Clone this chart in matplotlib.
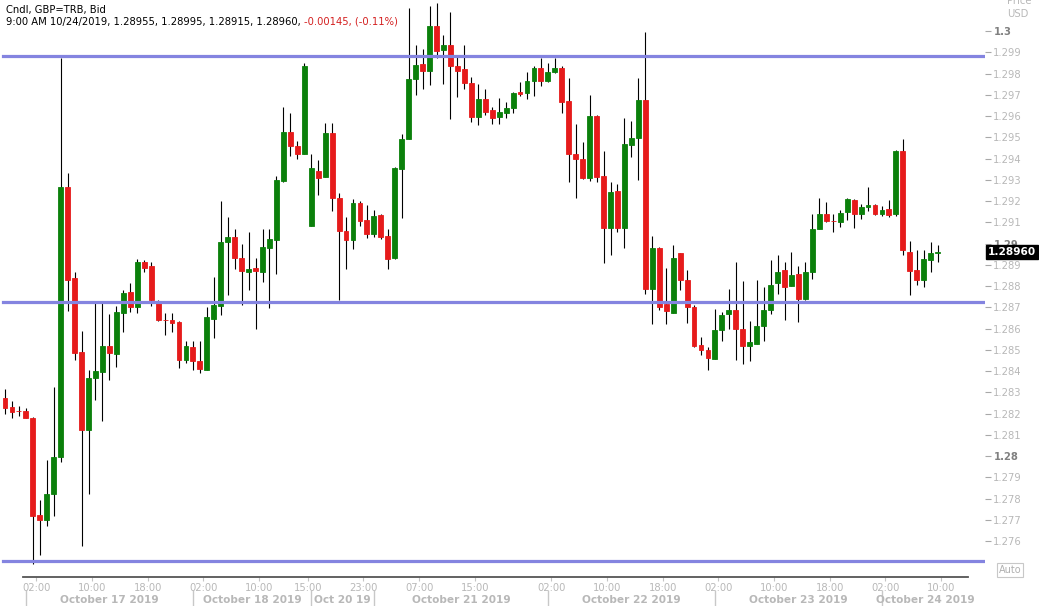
import numpy as np
import matplotlib.pyplot as plt
import matplotlib.transforms as mtransforms

# hourly candles, GBP=TRB bid, Oct 16 21:00 .. Oct 24 09:00
opens = [1.28272, 1.28229, 1.28212, 1.28210, 1.28181, 1.27723, 1.27699, 1.27819, 1.27997, 1.29266,
         1.28839, 1.28488, 1.28121, 1.28366, 1.28395, 1.28519, 1.28480, 1.28673, 1.28770, 1.28702,
         1.28912, 1.28895, 1.28728, 1.28640, 1.28642, 1.28629, 1.28451, 1.28511, 1.28449, 1.28406,
         1.28647, 1.28705, 1.29009, 1.29032, 1.28933, 1.28864, 1.28885, 1.28864, 1.28980, 1.29018,
         1.29296, 1.29525, 1.29459, 1.29423, 1.29083, 1.29342, 1.29313, 1.29518, 1.29214, 1.29061,
         1.29015, 1.29192, 1.29112, 1.29047, 1.29132, 1.29035, 1.28933, 1.29351, 1.29491, 1.29775,
         1.29843, 1.29812, 1.30022, 1.29911, 1.29932, 1.29834, 1.29821, 1.29757, 1.29595, 1.29681,
         1.29628, 1.29594, 1.29616, 1.29636, 1.29713, 1.29710, 1.29766, 1.29826, 1.29766, 1.29807,
         1.29826, 1.29670, 1.29419, 1.29399, 1.29308, 1.29602, 1.29317, 1.29074, 1.29249, 1.29074,
         1.29462, 1.29496, 1.29676, 1.28784, 1.28979, 1.28714, 1.28673, 1.28953, 1.28830, 1.28702,
         1.28523, 1.28500, 1.28458, 1.28591, 1.28668, 1.28685, 1.28599, 1.28518, 1.28526, 1.28611,
         1.28685, 1.28813, 1.28876, 1.28799, 1.28856, 1.28740, 1.28864, 1.29066, 1.29137, 1.29107,
         1.29103, 1.29146, 1.29206, 1.29141, 1.29172, 1.29180, 1.29141, 1.29163, 1.29141, 1.29436,
         1.28962, 1.28873, 1.28830, 1.28924, 1.28955]
highs = [1.28313, 1.28261, 1.28236, 1.28224, 1.28183, 1.27792, 1.27980, 1.28326, 1.29875, 1.29330,
         1.28868, 1.28588, 1.28403, 1.28728, 1.28728, 1.28666, 1.28705, 1.28782, 1.28816, 1.28929,
         1.28922, 1.28912, 1.28736, 1.28673, 1.28673, 1.28634, 1.28540, 1.28540, 1.28540, 1.28702,
         1.28844, 1.29201, 1.29126, 1.29066, 1.28997, 1.29056, 1.28933, 1.29069, 1.29069, 1.29317,
         1.29641, 1.29612, 1.29482, 1.29851, 1.29419, 1.29394, 1.29568, 1.29568, 1.29240, 1.29126,
         1.29211, 1.29201, 1.29180, 1.29158, 1.29137, 1.29069, 1.29360, 1.29513, 1.30108, 1.29932,
         1.29915, 1.30120, 1.30132, 1.29980, 1.30089, 1.29880, 1.29932, 1.29783, 1.29749, 1.29727,
         1.29641, 1.29687, 1.29667, 1.29715, 1.29761, 1.29807, 1.29833, 1.29872, 1.29851, 1.29872,
         1.29833, 1.29778, 1.29564, 1.29479, 1.29701, 1.29607, 1.29436, 1.29291, 1.29279, 1.29590,
         1.29578, 1.29778, 1.29995, 1.29035, 1.28984, 1.28885, 1.28992, 1.28955, 1.28873, 1.28711,
         1.28562, 1.28514, 1.28690, 1.28676, 1.28787, 1.28915, 1.28822, 1.28634, 1.28830, 1.28796,
         1.28921, 1.28944, 1.28915, 1.28958, 1.28893, 1.28912, 1.29137, 1.29214, 1.29194, 1.29137,
         1.29158, 1.29214, 1.29209, 1.29185, 1.29266, 1.29185, 1.29175, 1.29206, 1.29440, 1.29491,
         1.29013, 1.28970, 1.28970, 1.29009, 1.28995]
lows = [1.28198, 1.28181, 1.28190, 1.28178, 1.27493, 1.27535, 1.27669, 1.27720, 1.27973, 1.28681,
        1.28454, 1.27575, 1.27822, 1.28263, 1.28164, 1.28357, 1.28420, 1.28582, 1.28680, 1.28673,
        1.28868, 1.28705, 1.28634, 1.28570, 1.28582, 1.28415, 1.28437, 1.28403, 1.28391, 1.28403,
        1.28553, 1.28664, 1.28757, 1.28878, 1.28711, 1.28779, 1.28596, 1.28818, 1.28697, 1.28856,
        1.29288, 1.29414, 1.29397, 1.29420, 1.29083, 1.29228, 1.29313, 1.29151, 1.28736, 1.28878,
        1.28975, 1.29083, 1.29027, 1.29032, 1.29023, 1.28878, 1.28929, 1.29120, 1.29491, 1.29698,
        1.29727, 1.29747, 1.29872, 1.29752, 1.29587, 1.29689, 1.29727, 1.29570, 1.29559, 1.29604,
        1.29561, 1.29564, 1.29590, 1.29616, 1.29693, 1.29681, 1.29696, 1.29740, 1.29761, 1.29804,
        1.29612, 1.29291, 1.29214, 1.29303, 1.29296, 1.29288, 1.28907, 1.28944, 1.29052, 1.28980,
        1.29407, 1.29300, 1.28762, 1.28620, 1.28688, 1.28620, 1.28673, 1.28779, 1.28625, 1.28511,
        1.28476, 1.28403, 1.28458, 1.28540, 1.28599, 1.28454, 1.28432, 1.28449, 1.28526, 1.28540,
        1.28668, 1.28762, 1.28642, 1.28799, 1.28629, 1.28736, 1.28833, 1.29066, 1.29100, 1.29052,
        1.29078, 1.29112, 1.29073, 1.29115, 1.29155, 1.29134, 1.29129, 1.29124, 1.29129, 1.28944,
        1.28758, 1.28804, 1.28796, 1.28864, 1.28915]
closes = [1.28224, 1.28207, 1.28210, 1.28181, 1.27720, 1.27699, 1.27819, 1.27993, 1.29266, 1.28830,
          1.28485, 1.28121, 1.28369, 1.28400, 1.28519, 1.28485, 1.28676, 1.28765, 1.28702, 1.28912,
          1.28885, 1.28736, 1.28639, 1.28639, 1.28625, 1.28451, 1.28519, 1.28446, 1.28408, 1.28656,
          1.28711, 1.29009, 1.29032, 1.28933, 1.28869, 1.28881, 1.28869, 1.28984, 1.29023, 1.29300,
          1.29525, 1.29457, 1.29423, 1.29833, 1.29356, 1.29308, 1.29518, 1.29214, 1.29057, 1.29015,
          1.29192, 1.29108, 1.29047, 1.29129, 1.29032, 1.28929, 1.29356, 1.29493, 1.29775, 1.29838,
          1.29812, 1.30022, 1.29906, 1.29932, 1.29833, 1.29812, 1.29757, 1.29595, 1.29681, 1.29621,
          1.29590, 1.29619, 1.29638, 1.29706, 1.29705, 1.29766, 1.29826, 1.29766, 1.29807, 1.29826,
          1.29667, 1.29419, 1.29397, 1.29308, 1.29599, 1.29313, 1.29074, 1.29243, 1.29074, 1.29467,
          1.29496, 1.29676, 1.28784, 1.28980, 1.28702, 1.28681, 1.28933, 1.28827, 1.28702, 1.28519,
          1.28497, 1.28459, 1.28594, 1.28663, 1.28685, 1.28596, 1.28518, 1.28535, 1.28613, 1.28688,
          1.28804, 1.28868, 1.28796, 1.28852, 1.28740, 1.28868, 1.29066, 1.29137, 1.29107, 1.29105,
          1.29143, 1.29209, 1.29141, 1.29172, 1.29180, 1.29141, 1.29158, 1.29134, 1.29436, 1.28970,
          1.28869, 1.28830, 1.28929, 1.28955, 1.28960]

# drawn horizontal levels
levels = [1.29884, 1.28726, 1.27507]

# x axis: hour labels with the candle index of that hour, day names with the candle index where the day starts
hour_labels = ['02:00', '10:00', '18:00', '02:00', '10:00', '15:00', '23:00', '07:00', '15:00',
               '02:00', '10:00', '18:00', '02:00', '10:00', '18:00', '02:00', '10:00']
hour_idx = [5, 13, 21, 29, 37, 44, 52, 60, 68, 79, 87, 95, 103, 111, 119, 127, 135]
day_labels = ['October 17 2019', 'October 18 2019', 'Oct 20 19', 'October 21 2019',
              'October 22 2019', 'October 23 2019', 'October 24 2019']
day_edge = [3, 27, 44, 53, 78, 102, 126, 138.4]

last_price = 1.28960
header1 = 'Cndl, GBP=TRB, Bid'
header2 = '9:00 AM 10/24/2019, 1.28955, 1.28995, 1.28915, 1.28960, '
header3 = '-0.00145, (-0.11%)'

GREEN = '#0b800b'
RED = '#e61b1b'
LEVEL = '#8484e0'
LIGHT = '#b8b8b8'

plt.rcParams['font.family'] = ['DejaVu Sans']

W, H = 1039, 606
fig = plt.figure(figsize=(W / 100, H / 100), dpi=100)
ax = fig.add_axes([0, 29 / H, 985 / W, 577 / H])

o = np.array(opens)
h = np.array(highs)
l = np.array(lows)
c = np.array(closes)
x = np.arange(len(o))
cols = np.where(c > o, GREEN, RED)

ax.vlines(x, l, h, color='black', lw=0.8, zorder=2)
ax.bar(x, np.abs(c - o), bottom=np.minimum(o, c), width=0.7, color=cols,
       edgecolor=cols, linewidth=0.6, zorder=3)

for lv in levels:
    ax.axhline(lv, xmin=3 / 985, xmax=1, color=LEVEL, lw=2.3, zorder=4)

ax.set_xlim(-5 / 6.96, 980 / 6.96)
ax.set_ylim(1.274306, 1.301459)
for s in ax.spines.values():
    s.set_visible(False)

# right price scale
yt = np.round(np.arange(1.276, 1.3005, 0.001), 3)
ax.yaxis.tick_right()
ax.set_yticks(yt)
ax.set_yticklabels(['%g' % v for v in yt])
ax.tick_params(axis='y', direction='out', length=4, width=0.8, pad=2,
               color='#a8a8a8', labelsize=7.2, labelcolor=LIGHT)
for lab in ax.get_yticklabels():
    if lab.get_text() in ('1.3', '1.29', '1.28'):
        lab.set_fontweight('bold')
        lab.set_color('#808080')

ax.text(1.003, last_price, '%.5f' % last_price,
        transform=mtransforms.blended_transform_factory(ax.transAxes, ax.transData),
        ha='left', va='center', color='white', fontsize=7.6, fontweight='bold', zorder=10,
        bbox=dict(boxstyle='square,pad=0.15', facecolor='black', edgecolor='black'))

# time axis
ax.axhline(ax.get_ylim()[0], xmin=23 / 985, xmax=968 / 985, color='#555555', lw=1.3, clip_on=False)
ax.set_xticks(np.array(hour_idx) - 0.5, hour_labels)
ax.tick_params(axis='x', direction='out', length=3, width=0.8, pad=1.5,
               color='#c4c4c4', labelsize=7.2, labelcolor=LIGHT)

tr = mtransforms.blended_transform_factory(ax.transData, fig.transFigure)
for i, name in enumerate(day_labels):
    ax.plot([day_edge[i], day_edge[i]], [0, 15 / H], color='#c8c8c8', lw=1, transform=tr, clip_on=False)
    ax.text((day_edge[i] + day_edge[i + 1]) / 2, 6 / H, name, transform=tr, ha='center', va='center',
            fontsize=7.6, fontweight='bold', color=LIGHT)

# header
t1 = fig.text(6 / W, 1 - 10 / H, header1, ha='left', va='center', fontsize=7.2, color='black')
t2 = fig.text(6 / W, 1 - 22 / H, header2, ha='left', va='center', fontsize=7.2, color='black')
ax.annotate(header3, xy=(1, 0.5), xycoords=t2, ha='left', va='center', fontsize=7.2, color='#d42020')

fig.text(1007 / W, 1 - 1 / H, 'Price', ha='left', va='center', fontsize=7.2, color=LIGHT)
fig.text(1007 / W, 1 - 14 / H, 'USD', ha='left', va='center', fontsize=7.2, color=LIGHT)
fig.text(1010 / W, 1 - 570 / H, 'Auto', ha='center', va='center', fontsize=7, color='#b0b0b0',
         bbox=dict(boxstyle='square,pad=0.2', facecolor='white', edgecolor='#c8c8c8', lw=0.8))

fig.savefig('out.png', dpi=100)
